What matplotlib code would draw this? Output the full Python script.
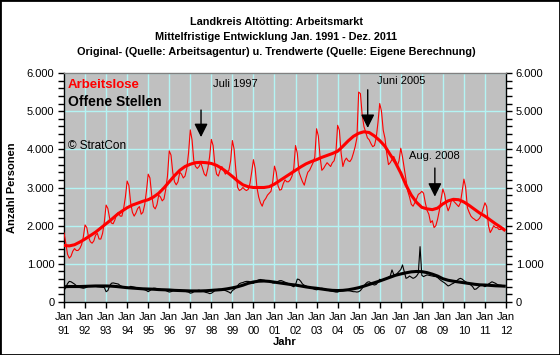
import matplotlib
matplotlib.use('Agg')
import matplotlib.pyplot as plt
import numpy as np
from matplotlib.ticker import MultipleLocator, FixedLocator, FuncFormatter
from matplotlib.patches import Rectangle

plt.rcParams['font.family'] = ['Liberation Sans', 'DejaVu Sans']

# ---------------- data ----------------
start_year = 1991
# Arbeitslose, monthly Jan 1991 .. Dec 2011
arbeitslose = [
    1810, 1550, 1250, 1150, 1200, 1330, 1400, 1350, 1350, 1400, 1500, 1700,  # 1991
    2020, 1950, 1700, 1580, 1540, 1600, 1750, 1800, 1650, 1650, 1800, 2100,  # 1992
    2540, 2450, 2200, 2070, 2050, 2150, 2300, 2350, 2250, 2250, 2450, 2750,  # 1993
    3170, 3050, 2600, 2350, 2250, 2330, 2450, 2500, 2300, 2350, 2550, 2900,  # 1994
    3350, 3250, 2800, 2500, 2440, 2550, 2800, 2750, 2650, 2700, 2950, 3300,  # 1995
    3960, 3850, 3400, 3150, 3070, 3150, 3400, 3350, 3250, 3300, 3500, 3900,  # 1996
    4510, 4250, 3700, 3550, 3500, 3550, 3650, 3500, 3350, 3300, 3500, 3800,  # 1997
    4260, 4100, 3600, 3350, 3300, 3450, 3550, 3450, 3350, 3400, 3450, 3700,  # 1998
    4230, 4000, 3450, 3000, 2920, 2950, 3000, 2950, 2920, 2950, 3100, 3400,  # 1999
    3730, 3500, 3000, 2750, 2600, 2510, 2650, 2710, 2800, 2850, 2900, 3150,  # 2000
    3560, 3400, 3050, 2930, 2950, 3100, 3200, 3150, 3150, 3200, 3300, 3500,  # 2001
    4100, 3900, 3400, 3270, 3150, 3060, 3250, 3400, 3450, 3550, 3650, 3800,  # 2002
    4540, 4350, 3800, 3450, 3500, 3580, 3650, 3600, 3550, 3650, 3700, 3900,  # 2003
    4630, 4500, 3900, 3550, 3700, 3770, 3700, 3680, 3750, 3900, 4070, 4300,  # 2004
    5500, 5460, 4900, 4600, 4450, 4300, 4250, 4150, 4070, 4100, 4300, 4700,  # 2005
    5200, 5000, 4500, 4290, 3900, 3600, 3650, 3730, 3815, 3700, 3560, 3700,  # 2006
    4030, 3800, 3500, 3210, 2900, 2750, 2560, 2510, 2600, 2700, 2820, 2850,  # 2007
    2900, 2850, 2600, 2400, 2300, 2080, 2130, 1950, 2000, 2170, 2400, 2700,  # 2008
    2960, 2820, 2550, 2390, 2500, 2690, 2650, 2600, 2550, 2500, 2600, 2900,  # 2009
    3220, 3000, 2470, 2350, 2250, 2200, 2170, 2130, 2150, 2200, 2300, 2450,  # 2010
    2600, 2500, 2000, 1820, 1900, 2000, 1950, 1950, 1900, 1900, 1950, 1900,  # 2011
]
# Offene Stellen, monthly Jan 1991 .. Dec 2011
offene_stellen = [
    300, 380, 480, 540, 530, 500, 470, 430, 400, 380, 370, 360,   # 1991
    370, 390, 420, 430, 430, 420, 410, 400, 395, 390, 385, 380,   # 1992
    270, 300, 420, 490, 500, 490, 480, 470, 430, 410, 400, 390,   # 1993
    360, 380, 410, 400, 390, 380, 360, 350, 340, 330, 320, 300,   # 1994
    270, 300, 340, 360, 360, 350, 340, 330, 320, 310, 300, 280,   # 1995
    260, 270, 290, 310, 320, 320, 310, 300, 290, 280, 270, 260,   # 1996
    230, 240, 270, 290, 300, 310, 290, 280, 270, 250, 240, 220,   # 1997
    230, 260, 300, 320, 330, 330, 320, 310, 300, 280, 260, 230,   # 1998
    300, 330, 370, 430, 480, 500, 510, 530, 540, 540, 530, 500,   # 1999
    490, 520, 560, 580, 590, 580, 570, 560, 550, 540, 530, 500,   # 2000
    500, 520, 540, 560, 560, 540, 520, 500, 480, 450, 420, 400,   # 2001
    450, 600, 590, 540, 470, 440, 420, 400, 380, 360, 350, 330,   # 2002
    320, 330, 350, 360, 350, 340, 320, 300, 290, 280, 270, 260,   # 2003
    260, 280, 300, 310, 320, 310, 300, 290, 280, 270, 270, 260,   # 2004
    270, 300, 360, 420, 480, 520, 530, 500, 460, 445, 460, 520,   # 2005
    595, 580, 570, 600, 620, 650, 680, 840, 720, 700, 750, 800,   # 2006
    850, 970, 800, 620, 640, 680, 650, 620, 640, 680, 750, 1450,  # 2007
    700, 665, 690, 710, 700, 690, 680, 670, 665, 640, 600, 560,   # 2008
    530, 500, 460, 420, 440, 470, 490, 520, 560, 600, 620, 600,   # 2009
    560, 530, 500, 470, 445, 400, 330, 340, 380, 420, 450, 430,   # 2010
    400, 430, 470, 500, 530, 510, 490, 460, 445, 440, 430, 420,   # 2011
]
# Trend values, quarterly (Jan, Apr, Jul, Oct) 1991..2011 plus Dec 2011
trend_arbeitslose = [
    1480, 1470, 1500, 1570,  1650, 1740, 1830, 1940,  2050, 2160, 2280, 2380,
    2470, 2540, 2590, 2640,  2680, 2750, 2850, 2990,  3150, 3310, 3450, 3550,
    3610, 3650, 3660, 3650,  3630, 3580, 3500, 3400,  3290, 3170, 3070, 3020,
    3000, 3000, 3000, 3020,  3090, 3180, 3270, 3360,  3450, 3540, 3620, 3680,
    3730, 3790, 3840, 3890,  3950, 4080, 4220, 4340,  4420, 4460, 4440, 4350,
    4230, 4080, 3860, 3650,  3380, 3060, 2800, 2610,  2480, 2440, 2420, 2460,
    2570, 2650, 2690, 2680,  2620, 2530, 2430, 2330,  2250, 2150, 2050, 1960,
    1890,
]
trend_offene = [
    400, 405, 405, 405,  410, 415, 420, 420,  420, 415, 405, 390,
    375, 365, 355, 345,  340, 335, 325, 320,  315, 305, 300, 295,
    290, 290, 290, 295,  305, 315, 325, 345,  370, 400, 440, 490,
    525, 545, 550, 540,  520, 500, 480, 460,  445, 420, 395, 375,
    360, 340, 320, 305,  300, 305, 320, 345,  375, 415, 460, 505,
    550, 600, 650, 700,  735, 765, 790, 800,  795, 770, 730, 680,
    610, 570, 545, 525,  505, 485, 465, 450,  445, 435, 425, 420,
    415,
]
tick_years = list(range(1991, 2013))
y_major = [0, 1000, 2000, 3000, 4000, 5000, 6000]

# ---------------- figure ----------------
fig = plt.figure(figsize=(5.6, 3.55), dpi=100)
fig.patch.set_facecolor('white')
ax = fig.add_axes([64/560, 1-302/355, 442/560, 229/355])
ax.set_facecolor('#C0C0C0')

n = len(arbeitslose)
x_month = start_year + np.arange(n) / 12.0
trend_idx = list(range(0, n, 3)) + [n - 1]
x_trend = start_year + np.array(trend_idx) / 12.0

ax.plot(x_month, offene_stellen, color='black', lw=0.8, zorder=3)
ax.plot(x_trend, trend_offene, color='black', lw=2.2, zorder=4)
ax.plot(x_month, arbeitslose, color='#FF0000', lw=0.8, zorder=3)
ax.plot(x_trend, trend_arbeitslose, color='#FF0000', lw=2.2, zorder=4)

ax.set_xlim(1991, 2012)
ax.set_ylim(0, 6000)
ax.xaxis.set_major_locator(FixedLocator(tick_years))
ax.set_xticklabels(['Jan\n%02d' % (y % 100) for y in tick_years])
ax.yaxis.set_major_locator(FixedLocator(y_major))
ax.yaxis.set_minor_locator(MultipleLocator(200))
ax.yaxis.set_major_formatter(FuncFormatter(lambda v, p: f"{int(v):,}".replace(',', '.')))

ax.grid(True, which='major', color='#B4F4F4', lw=1.0)
ax.set_axisbelow(True)

ax.tick_params(axis='y', which='both', direction='out', left=True, right=True,
               labelleft=True, labelright=True, labelsize=8, length=4, width=1, pad=3)
ax.tick_params(axis='x', which='major', direction='out', bottom=True, labelsize=8,
               length=4, width=1, pad=3)
for lab in ax.get_xticklabels():
    lab.set_linespacing(1.5)

for s in ['left', 'right', 'bottom']:
    ax.spines[s].set_color('black')
    ax.spines[s].set_linewidth(1)
ax.spines['top'].set_color('#808080')
ax.spines['top'].set_linewidth(1)

ax.set_ylabel('Anzahl Personen', fontsize=8, fontweight='bold', labelpad=7)
ax.set_xlabel('Jahr', fontsize=8, fontweight='bold', labelpad=1)

# titles
fig.text(276/560, 1-22/355, 'Landkreis Altötting: Arbeitsmarkt', ha='center', va='center',
         fontsize=7.8, fontweight='bold')
fig.text(276/560, 1-37/355, 'Mittelfristige Entwicklung Jan. 1991 - Dez. 2011', ha='center',
         va='center', fontsize=7.8, fontweight='bold')
fig.text(276/560, 1-52/355, 'Original- (Quelle: Arbeitsagentur) u. Trendwerte (Quelle: Eigene Berechnung)',
         ha='center', va='center', fontsize=7.8, fontweight='bold')

# legend texts
ax.text(0.009, 0.948, 'Arbeitslose', transform=ax.transAxes, color='#FF0000',
        fontsize=9.5, fontweight='bold', ha='left', va='center')
ax.text(0.009, 0.875, 'Offene Stellen', transform=ax.transAxes, color='black',
        fontsize=10, fontweight='bold', ha='left', va='center')
ax.text(0.009, 0.681, '© StratCon', transform=ax.transAxes, color='black',
        fontsize=8.5, ha='left', va='center')

# annotations
arrow_kw = dict(arrowstyle='-|>,head_width=0.45,head_length=0.9', color='black', lw=1,
                shrinkA=0, shrinkB=0, mutation_scale=9)
ax.annotate('', xy=(1997.51, 4320), xytext=(1997.51, 5030), arrowprops=arrow_kw)
ax.text(1998.1, 5715, 'Juli 1997', fontsize=8, ha='left', va='center')
ax.annotate('', xy=(2005.43, 4560), xytext=(2005.43, 5560), arrowprops=arrow_kw)
ax.text(2005.85, 5800, 'Juni 2005', fontsize=8, ha='left', va='center')
ax.annotate('', xy=(2008.62, 2760), xytext=(2008.62, 3510), arrowprops=arrow_kw)
ax.text(2007.4, 3830, 'Aug. 2008', fontsize=8, ha='left', va='center')

# figure border
fig.patches.append(Rectangle((0, 0), 1, 1, transform=fig.transFigure, fill=False,
                             edgecolor='black', lw=2))

fig.savefig('out.png', dpi=100, facecolor='white')
